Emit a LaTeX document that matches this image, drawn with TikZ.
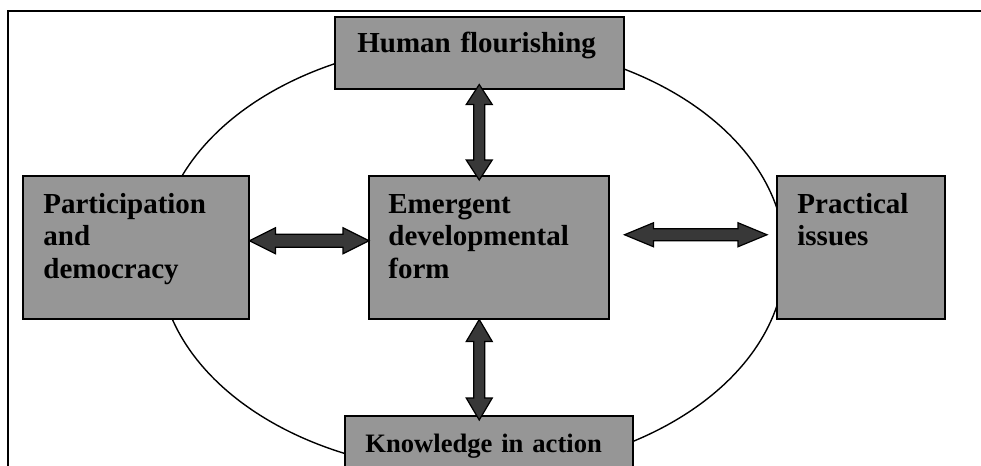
\documentclass[tikz,border=0pt]{standalone}
\usepackage{fontspec}
\setmainfont{Liberation Serif}
\usetikzlibrary{calc}
\definecolor{boxgray}{RGB}{150,150,150}
\definecolor{arrowgray}{RGB}{56,56,56}
\tikzset{box/.style = {draw, fill=boxgray, line width=0.75pt, rectangle, anchor=north west, inner sep=0pt},
         txt/.style = {anchor=base west, inner sep=0pt, align=left, text width=140pt,
                       font=\bfseries\fontsize{14.5}{16.25}\selectfont},
         barrow/.style = {draw=black, fill=arrowgray, line width=0.6pt, line join=miter},
         ring/.style = {draw, line width=0.7pt},
         frame/.style = {draw, line width=1pt}}
\newcommand{\harr}[5]{\draw[barrow] (#1) -- ++(#3,-#4) -- ++(0,#4-#5) -- ($(#2)+(-#3,-#5)$) -- ++(0,#5-#4) -- (#2)
  -- ++(-#3,#4) -- ++(0,#5-#4) -- ($(#1)+(#3,#5)$) -- ++(0,#4-#5) -- cycle;}
\newcommand{\varr}[5]{\draw[barrow] (#1) -- ++(-#4,#3) -- ++(#4-#5,0) -- ($(#2)+(-#5,-#3)$) -- ++(#5-#4,0) -- (#2)
  -- ++(#4,-#3) -- ++(#5-#4,0) -- ($(#1)+(#5,#3)$) -- ++(#4-#5,0) -- cycle;}
\begin{document}
\begin{tikzpicture}[x=0.5pt,y=-0.5pt]
        \clip(0,0)rectangle(981,466);
        \draw[frame](8,480)|-(1000,11);
        \draw[ring](472,257)ellipse[x radius=313,y radius=215];

        \node[box,minimum width=144.5pt,minimum height=36pt](hf)at(334,16){};
        \node[box,minimum width=113pt,minimum height=71.5pt](part)at(22,175){};
        \node[box,minimum width=120pt,minimum height=71.5pt](emerg)at(368,175){};
        \node[box,minimum width=84pt,minimum height=71.5pt](prac)at(776,175){};
        \node[box,minimum width=144pt,minimum height=40pt](kn)at(344,415){};

        \node[txt](hftext)at($(hf.north west)+(23,37)$){Human flourishing};
        \node[txt](parttext)at($(part.north west)+(21,38)$){Participation\\and\\democracy};
        \node[txt](emergtext)at($(emerg.north west)+(20,38)$){Emergent\\developmental\\form};
        \node[txt](practext)at($(prac.north west)+(21,38)$){Practical\\issues};
        \node[txt,font=\bfseries\fontsize{13.3}{15}\selectfont](kntext)at($(kn.north west)+(21,37)$){Knowledge in action};

        \coordinate(la)at($(part.east)+(0,-6.5)$);
        \coordinate(lb)at($(emerg.west)+(1,-6.5)$);
        \coordinate(ra)at($(emerg.east)+(15,-12.5)$);
        \coordinate(rb)at($(prac.west)+(-9,-12.5)$);
        \coordinate(ta)at($(hf.south)+(0,-5)$);
        \coordinate(tb)at($(hf.south|-emerg.north)+(0,5)$);
        \coordinate(ba)at(hf.south|-emerg.south);
        \coordinate(bb)at($(hf.south|-kn.north)+(0,5)$);

        \harr{la}{lb}{26}{13}{6.5}
        \harr{ra}{rb}{29}{12}{6}
        \varr{ta}{tb}{20}{13}{5.5}
        \varr{ba}{bb}{22}{13}{5.5}
    \end{tikzpicture}
\end{document}
